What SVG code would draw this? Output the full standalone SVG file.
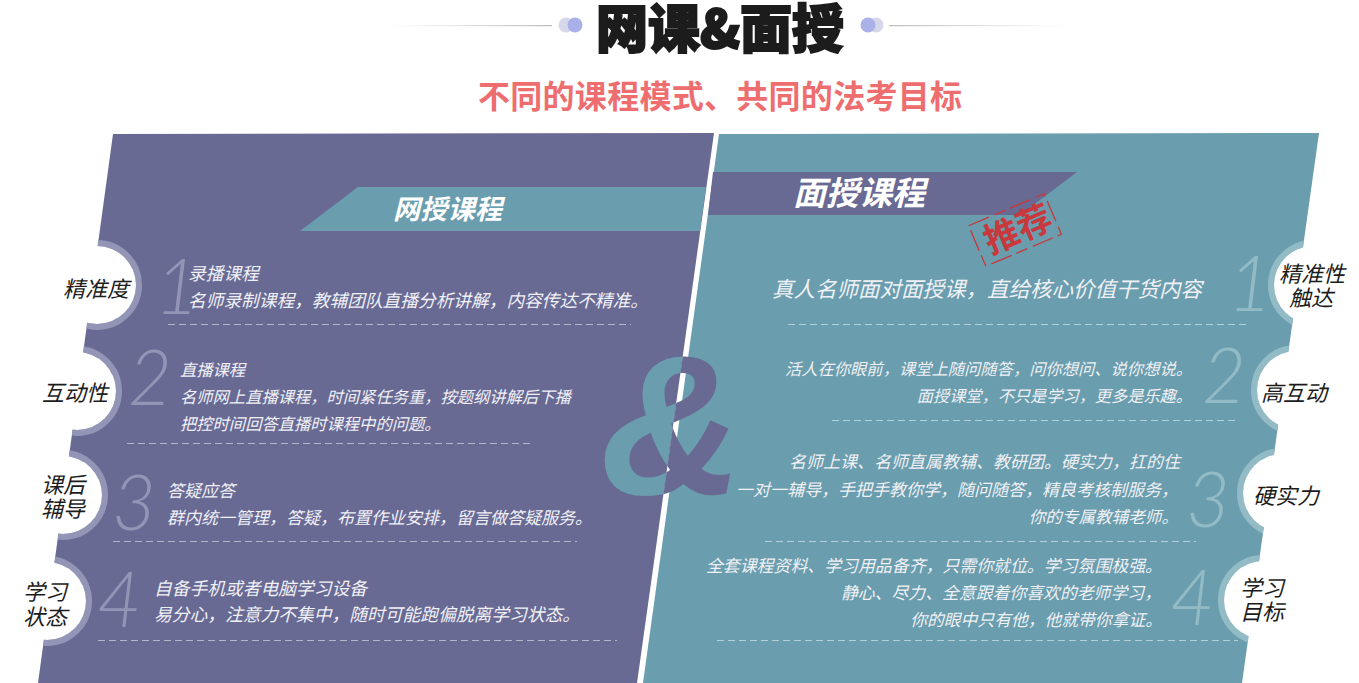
<svg xmlns="http://www.w3.org/2000/svg" xmlns:xlink="http://www.w3.org/1999/xlink" width="1359" height="683" viewBox="0 0 1359 683">
<style>
text{font-family:"Noto Sans CJK SC","Noto Sans",sans-serif}
.it{font-style:italic;fill:#f0f1f6;font-weight:400}
.e{text-anchor:end}
.lb{font-style:italic;font-size:22px;fill:#1c1c1c;font-weight:400}
.num{font-family:"Lato","Open Sans",sans-serif;font-weight:300;font-style:italic;font-size:76px}
.nl{fill:#9295b5}.nr{fill:#93bbc6}
.d{stroke:#b4b6cc;stroke-width:1;stroke-dasharray:7 4;fill:none}
.dr{stroke:#b4d0d8}
.rl{fill:none;stroke:#9295b5;stroke-width:6}
.rr{fill:none;stroke:#93bbc6;stroke-width:6}
.w{fill:#fff}
</style>
<defs>
<clipPath id="cl"><polygon points="113,134 714,133 637,683 38,683"/></clipPath>
<clipPath id="cr"><polygon points="719,134 1319,133 1242,683 643,683"/></clipPath>
<clipPath id="cAmpR"><polygon points="714,133 1359,133 1359,683 637,683"/></clipPath>
<linearGradient id="g1"><stop offset="0" stop-color="#ccc" stop-opacity="0"/><stop offset="1" stop-color="#bbb"/></linearGradient>
<linearGradient id="g2"><stop offset="0" stop-color="#bbb"/><stop offset="1" stop-color="#ccc" stop-opacity="0"/></linearGradient>
<text id="amp" x="600" y="494" style="font-family:'Liberation Sans',sans-serif;font-weight:700;font-style:italic;font-size:198px">&amp;</text>
</defs>
<rect width="1359" height="683" fill="#fff"/>
<g id="header">
<rect x="384" y="25" width="168" height="1.2" fill="url(#g1)"/>
<rect x="889" y="25" width="184" height="1.2" fill="url(#g2)"/>
<circle cx="566" cy="25" r="7.500" fill="#d6d7ea"/><circle cx="575" cy="25" r="7.500" fill="#aab0e8"/>
<circle cx="876" cy="25" r="7.500" fill="#d6d7ea"/><circle cx="868" cy="25" r="7.500" fill="#aab0e8"/>
<text x="596" y="48" textLength="248" style="font-size:52px;font-weight:900;fill:#1c1c1c;stroke:#1c1c1c;stroke-width:2">网课&amp;面授</text>
<text x="478" y="108" textLength="484" style="font-size:32px;font-weight:700;fill:#ee6d6f">不同的课程模式、共同的法考目标</text>
</g>
<g id="panel-left">
<polygon points="113,134 714,133 637,683 38,683" fill="#696a94"/>
<polygon points="358,187 706,187 700,231 300,231" fill="#6a9dad"/>
<text x="393" y="219" textLength="109" style="font-size:27px;font-weight:700;font-style:italic;fill:#fff">网授课程</text>
</g>
<g id="panel-right">
<polygon points="719,134 1319,133 1242,683 643,683" fill="#6a9dad"/>
<polygon points="713,172 1077,172 1020,215 708,215" fill="#696a94"/>
<text x="793" y="205" textLength="132" style="font-size:33px;font-weight:700;font-style:italic;fill:#fff">面授课程</text>
</g>
<g id="stamp" transform="rotate(-23 1015 230)">
<rect x="974" y="208" width="82" height="44" fill="none" stroke="#c8383c" stroke-width="1.300" stroke-dasharray="22 6 12 5"/>
<text x="1018" y="243" text-anchor="middle" style="font-size:35px;font-weight:700;fill:#c8383c">推荐</text>
</g>
<g id="ampersand">
<use xlink:href="#amp" href="#amp" clip-path="url(#cl)" fill="#6a9dad"/>
<use xlink:href="#amp" href="#amp" clip-path="url(#cAmpR)" fill="#696a94"/>
</g>
<g id="connectors">
<line class="d" x1="168" y1="324.500" x2="631" y2="324.500"/>
<line class="d" x1="127" y1="443.500" x2="533" y2="443.500"/>
<line class="d" x1="113" y1="541.500" x2="577" y2="541.500"/>
<line class="d" x1="98" y1="640.500" x2="617" y2="640.500"/>
<line class="d dr" x1="788" y1="324.500" x2="1250" y2="324.500"/>
<line class="d dr" x1="832" y1="420.500" x2="1238" y2="420.500"/>
<line class="d dr" x1="765" y1="541.500" x2="1196" y2="541.500"/>
<line class="d dr" x1="717" y1="640.500" x2="1238" y2="640.500"/>
</g>
<g id="left-1"><circle class="rl" cx="97" cy="285" r="42" clip-path="url(#cl)"/><circle class="w" cx="97" cy="285" r="39"/>
<text class="lb" x="63" y="297">精准度</text><text class="num nl" x="155" y="314">1</text>
<text class="it" font-size="17.7" x="188" y="280">录播课程</text><text class="it" font-size="17.7" x="188" y="307">名师录制课程，教辅团队直播分析讲解，内容传达不精准。</text></g>
<g id="left-2"><circle class="rl" cx="77" cy="391" r="42" clip-path="url(#cl)"/><circle class="w" cx="77" cy="391" r="39"/>
<text class="lb" x="42" y="401">互动性</text><text class="num nl" x="128" y="405">2</text>
<text class="it" font-size="16.3" x="180" y="376">直播课程</text><text class="it" font-size="16.3" x="180" y="403">名师网上直播课程，时间紧任务重，按题纲讲解后下播</text><text class="it" font-size="16.3" x="180" y="430">把控时间回答直播时课程中的问题。</text></g>
<g id="left-3"><circle class="rl" cx="63" cy="495" r="42" clip-path="url(#cl)"/><circle class="w" cx="63" cy="495" r="39"/>
<text class="lb" x="41" y="493">课后</text><text class="lb" x="41" y="517">辅导</text><text class="num nl" x="112" y="530">3</text>
<text class="it" font-size="17" x="167" y="497">答疑应答</text><text class="it" font-size="17" x="167" y="524">群内统一管理，答疑，布置作业安排，留言做答疑服务。</text></g>
<g id="left-4"><circle class="rl" cx="47" cy="601" r="42" clip-path="url(#cl)"/><circle class="w" cx="47" cy="601" r="39"/>
<text class="lb" x="23" y="600">学习</text><text class="lb" x="23" y="625">状态</text><text class="num nl" x="97" y="627">4</text>
<text class="it" font-size="17.75" x="154" y="595">自备手机或者电脑学习设备</text><text class="it" font-size="17.75" x="154" y="621">易分心，注意力不集中，随时可能跑偏脱离学习状态。</text></g>
<g id="right-1"><circle class="rr" cx="1313" cy="285" r="42" clip-path="url(#cr)"/><circle class="w" cx="1313" cy="285" r="39"/>
<text class="lb" x="1279" y="282">精准性</text><text class="lb" x="1289" y="306">触达</text><text class="num nr" x="1228" y="311">1</text>
<text class="it" x="772" y="297" font-size="21.5">真人名师面对面授课，直给核心价值干货内容</text></g>
<g id="right-2"><circle class="rr" cx="1296" cy="390" r="42" clip-path="url(#cr)"/><circle class="w" cx="1296" cy="390" r="39"/>
<text class="lb" x="1261" y="401">高互动</text><text class="num nr" x="1202" y="403">2</text>
<text class="it e" font-size="16.3" x="1192" y="375">活人在你眼前，课堂上随问随答，问你想问、说你想说。</text><text class="it e" font-size="16.2" x="1192" y="402">面授课堂，不只是学习，更多是乐趣。</text></g>
<g id="right-3"><circle class="rr" cx="1282" cy="493" r="42" clip-path="url(#cr)"/><circle class="w" cx="1282" cy="493" r="39"/>
<text class="lb" x="1253" y="504">硬实力</text><text class="num nr" x="1186" y="527">3</text>
<text class="it e" font-size="17" x="1180" y="468">名师上课、名师直属教辅、教研团。硬实力，扛的住</text><text class="it e" font-size="17" x="1178" y="496">一对一辅导，手把手教你学，随问随答，精良考核制服务，</text><text class="it e" font-size="16.6" x="1178" y="523">你的专属教辅老师。</text></g>
<g id="right-4"><circle class="rr" cx="1263" cy="600" r="42" clip-path="url(#cr)"/><circle class="w" cx="1263" cy="600" r="39"/>
<text class="lb" x="1240" y="596">学习</text><text class="lb" x="1240" y="620">目标</text><text class="num nr" x="1170" y="625">4</text>
<text class="it e" font-size="16.9" x="1162" y="572">全套课程资料、学习用品备齐，只需你就位。学习氛围极强。</text><text class="it e" font-size="16.85" x="1161" y="599">静心、尽力、全意跟着你喜欢的老师学习，</text><text class="it e" font-size="16.8" x="1162" y="626">你的眼中只有他，他就带你拿证。</text></g>
</svg>
